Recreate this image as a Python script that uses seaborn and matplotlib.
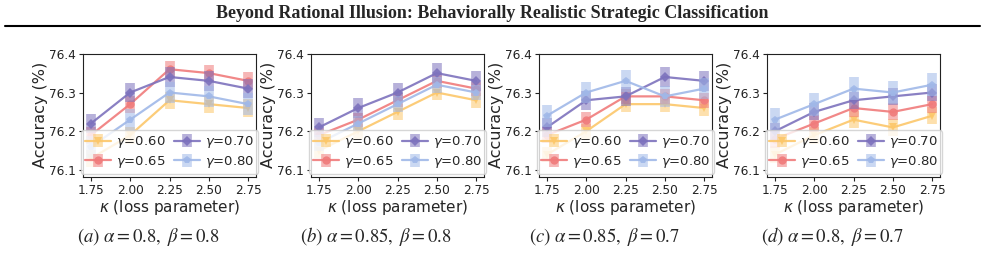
import numpy as np
import pandas as pd
import matplotlib
matplotlib.use('Agg')
import matplotlib.pyplot as plt
import seaborn as sns

# x 轴: kappa (loss parameter)
kappa = [1.75, 2.00, 2.25, 2.50, 2.75]
gammas = ['0.60', '0.65', '0.70', '0.80']

# 每个子图的准确率, 每行对应一个 gamma
acc_a = [[76.13, 76.19, 76.28, 76.27, 76.26],
         [76.19, 76.27, 76.36, 76.35, 76.33],
         [76.22, 76.30, 76.34, 76.33, 76.31],
         [76.16, 76.23, 76.30, 76.29, 76.27]]
acc_b = [[76.15, 76.20, 76.25, 76.30, 76.28],
         [76.19, 76.23, 76.28, 76.33, 76.31],
         [76.21, 76.26, 76.30, 76.35, 76.33],
         [76.17, 76.22, 76.27, 76.32, 76.30]]
acc_c = [[76.14, 76.20, 76.27, 76.27, 76.26],
         [76.19, 76.23, 76.29, 76.29, 76.28],
         [76.21, 76.28, 76.29, 76.34, 76.33],
         [76.24, 76.30, 76.33, 76.29, 76.31]]
acc_d = [[76.14, 76.19, 76.23, 76.21, 76.24],
         [76.18, 76.22, 76.26, 76.25, 76.27],
         [76.20, 76.25, 76.28, 76.29, 76.30],
         [76.23, 76.27, 76.31, 76.30, 76.32]]

# 误差 (每个 gamma 一个值)
err_a = [0.022, 0.022, 0.025, 0.028]
err_b = [0.020, 0.018, 0.025, 0.020]
err_c = [0.020, 0.020, 0.025, 0.028]
err_d = [0.022, 0.022, 0.022, 0.030]

captions = [r'$\mathit{(a)}\ \alpha = 0.8,\ \beta = 0.8$',
            r'$\mathit{(b)}\ \alpha = 0.85,\ \beta = 0.8$',
            r'$\mathit{(c)}\ \alpha = 0.85,\ \beta = 0.7$',
            r'$\mathit{(d)}\ \alpha = 0.8,\ \beta = 0.7$']

colors = ['#fcc76a', '#f07b7b', '#7d72bd', '#a0b8e8']
markers = ['v', 'o', 'D', 'p']

sns.set_style('ticks')
plt.rcParams['font.family'] = ['DejaVu Sans']
plt.rcParams['axes.edgecolor'] = '#222222'
plt.rcParams['xtick.color'] = '#222222'
plt.rcParams['ytick.color'] = '#222222'

fig = plt.figure(figsize=(9.85, 2.61), dpi=100)

panels = [(acc_a, err_a), (acc_b, err_b), (acc_c, err_c), (acc_d, err_d)]
for i, (acc, err) in enumerate(panels):
    ax = fig.add_axes([(83 + 228 * i) / 985, 1 - 176.7 / 261, 173 / 985, 123 / 261])
    handles = []
    for j, g in enumerate(gammas):
        df = pd.DataFrame({'kappa': kappa, 'acc': acc[j]})
        eb = ax.errorbar(df['kappa'], df['acc'], yerr=err[j], fmt='none',
                         ecolor=colors[j], elinewidth=7, alpha=0.55, capsize=0)
        sns.lineplot(data=df, x='kappa', y='acc', ax=ax, color=colors[j],
                     marker=markers[j], markersize=6 if markers[j] != 'D' else 5,
                     markeredgewidth=0, linewidth=1.6, alpha=0.9)
        handles.append((eb, ax.lines[-1]))
    ax.set_ylim(76.083, 76.4)
    ax.set_yticks([76.1, 76.2, 76.3, 76.4])
    ax.set_xticks(kappa)
    ax.set_xticklabels(['%.2f' % k for k in kappa])
    ax.tick_params(labelsize=8.7, length=3, width=0.8, pad=2)
    ax.set_xlabel(r'$\kappa$ (loss parameter)', fontsize=11, labelpad=1)
    ax.set_ylabel('Accuracy (%)', fontsize=11.5, labelpad=1)
    ax.legend(handles, [r'$\gamma$=' + g for g in gammas], ncol=2, loc='lower center',
              fontsize=9.5, columnspacing=0.6, handlelength=2.0, handletextpad=0.4,
              borderpad=0.3, labelspacing=0.3, framealpha=0.8, borderaxespad=0.2)
    fig.text((148 + 228 * i) / 985, 1 - 237 / 261, captions[i], ha='center', va='center',
             fontsize=13.5, math_fontfamily='stix')

fig.text(0.5, 1 - 13 / 261, 'Beyond Rational Illusion: Behaviorally Realistic Strategic Classification',
         ha='center', va='center', fontsize=13, fontweight='bold', family='Liberation Serif')
fig.add_artist(plt.Line2D([5 / 985, 980 / 985], [1 - 26 / 261, 1 - 26 / 261], color='black', linewidth=1.5))

plt.savefig('out.png', dpi=100)
plt.close()
